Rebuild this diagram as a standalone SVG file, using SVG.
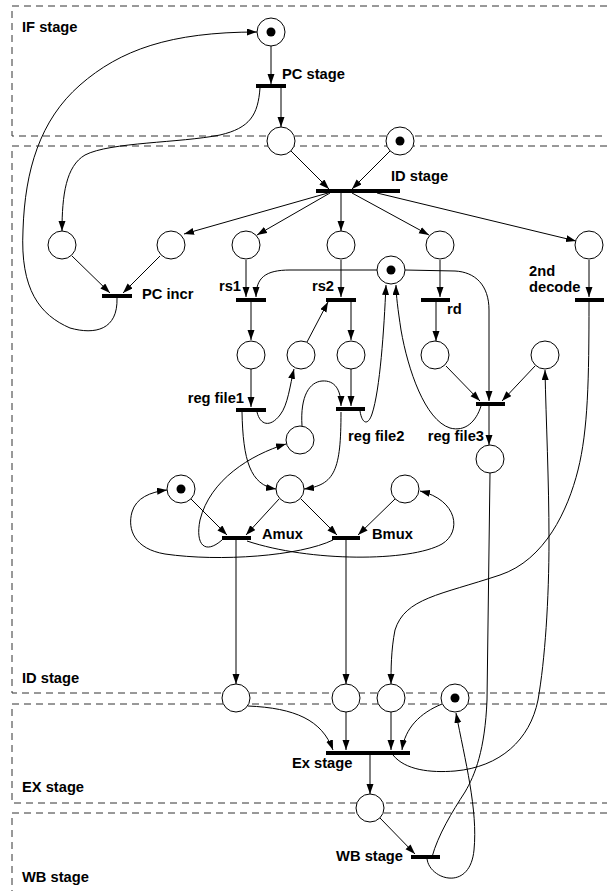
<svg xmlns="http://www.w3.org/2000/svg" width="607" height="891" viewBox="0 0 607 891">
<style>
.stage{fill:none;stroke:#333;stroke-width:1;stroke-dasharray:7,5}
.pl{fill:#fff;stroke:#000;stroke-width:1}
.tok{fill:#000}
.tr{fill:#000}
.c{fill:none;stroke:#000;stroke-width:1;marker-end:url(#ah)}
.n{fill:none;stroke:#000;stroke-width:1}
text{font-family:"Liberation Sans",Arial,sans-serif;font-weight:bold;font-size:14.7px;fill:#000}
.e{text-anchor:end}
</style>
<defs>
<marker id="ah" markerUnits="userSpaceOnUse" markerWidth="11" markerHeight="8" refX="10" refY="3.5" orient="auto">
<path d="M0,0 L10,3.5 L0,7 z" fill="#000"/>
</marker>
</defs>
<g id="stages">
<path class="stage" d="M607,6 H12 V136 H607"/>
<path class="stage" d="M607,146 H12 V693 H607"/>
<path class="stage" d="M607,704 H12 V803 H607"/>
<path class="stage" d="M607,813 H12 V891"/>
<text x="22" y="32">IF stage</text>
<text x="22" y="683">ID stage</text>
<text x="22" y="792">EX stage</text>
<text x="22" y="882">WB stage</text>
</g>
<g id="connectors">
<path class="c" d="M271,46 L271,84"/>
<path class="c" d="M281,88 L281,127"/>
<path class="c" d="M260,88 C258,115 250,128 220,135 C180,143 110,142 85,155 C66,166 62,195 62,231"/>
<path class="c" d="M117,298 C118,330 95,335 70,328 C40,315 20,290 23,230 C25,170 40,120 80,85 C120,50 170,32 257,32"/>
<path class="c" d="M72,256 L110,293"/>
<path class="c" d="M160,256 L123,293"/>
<path class="c" d="M291,151 L329,189"/>
<path class="c" d="M390,151 L352,189"/>
<path class="c" d="M328,193 L184,234"/>
<path class="c" d="M330,193 L257,235"/>
<path class="c" d="M341,193 L341,231"/>
<path class="c" d="M352,193 L429,235"/>
<path class="c" d="M377,193 L576,241"/>
<path class="c" d="M246,260 L246,297"/>
<path class="c" d="M377,270 L290,270 C265,270 256,278 256,297"/>
<path class="c" d="M251,302 L251,340"/>
<path class="c" d="M251,369 L251,407"/>
<path class="c" d="M257,412 C260,425 270,428 280,415 C288,405 290,385 294,369"/>
<path class="c" d="M242,412 C243,460 250,485 276,489"/>
<path class="c" d="M341,260 L341,297"/>
<path class="c" d="M307,342 L328,302"/>
<path class="c" d="M351,302 L351,340"/>
<path class="c" d="M351,369 L351,406"/>
<path class="c" d="M302,426 C300,395 310,382 322,381 C335,380 341,390 341,406"/>
<path class="c" d="M341,412 C341,470 335,485 304,489"/>
<path class="c" d="M360,411 C362,424 368,426 372,414 C380,390 384,330 386,285"/>
<path class="c" d="M481,406 C476,422 465,432 450,428 C425,420 408,370 401,330 C398,310 396,295 396,285"/>
<path class="c" d="M405,270 L455,271 C475,272 489,285 489,310 L489,401"/>
<path class="c" d="M440,260 L440,297"/>
<path class="c" d="M436,302 L436,341"/>
<path class="c" d="M446,366 L480,401"/>
<path class="c" d="M535,366 L502,401"/>
<path class="c" d="M489,406 L489,445"/>
<path class="c" d="M589,260 L589,297"/>
<path class="c" d="M589,302 C589,380 588,430 578,470 C568,510 545,560 500,575 C440,595 405,598 395,630 C391,650 391,670 391,684"/>
<path class="c" d="M236,540 L236,684"/>
<path class="c" d="M346,540 L346,684"/>
<path class="c" d="M191,499 L227,535"/>
<path class="c" d="M279,499 L246,535"/>
<path class="c" d="M301,499 L337,535"/>
<path class="c" d="M395,499 L358,535"/>
<path class="c" d="M222,540 C205,555 195,545 200,520 C210,480 250,455 286,444"/>
<path class="c" d="M247,541 C310,562 410,562 442,544 C462,532 458,500 420,491"/>
<path class="c" d="M333,540 C300,556 220,562 165,554 C135,549 127,530 132,512 C136,498 150,492 167,490"/>
<path class="c" d="M248,706 C295,708 322,720 333,750"/>
<path class="c" d="M346,712 L346,750"/>
<path class="c" d="M391,712 L391,750"/>
<path class="c" d="M442,704 C420,713 405,728 402,750"/>
<path class="c" d="M370,755 L370,794"/>
<path class="c" d="M393,755 C405,770 430,773 455,771 C500,767 530,740 538,700 C545,660 549,600 549,540 C549,480 546,420 545,370"/>
<path class="n" d="M490,473 L487,700 C485,750 475,775 465,792 C452,812 438,835 432,857"/>
<path class="c" d="M427,859 C430,880 470,892 474,850 C478,810 465,760 456,713"/>
<path class="c" d="M380,818 L415,854"/>
</g>
<g id="p_if"><circle class="pl" cx="271" cy="32" r="14"/><circle class="tok" cx="271" cy="32" r="4.5"/></g>
<g id="p_pc"><circle class="pl" cx="281" cy="141" r="14"/></g>
<g id="p_idtok"><circle class="pl" cx="400" cy="141" r="14"/><circle class="tok" cx="400" cy="141" r="4.5"/></g>
<g id="p_a"><circle class="pl" cx="62" cy="245" r="14"/></g>
<g id="p_b"><circle class="pl" cx="171" cy="245" r="14"/></g>
<g id="p_c"><circle class="pl" cx="246" cy="245" r="14"/></g>
<g id="p_f"><circle class="pl" cx="341" cy="245" r="14"/></g>
<g id="p_g"><circle class="pl" cx="440" cy="245" r="14"/></g>
<g id="p_h"><circle class="pl" cx="589" cy="245" r="14"/></g>
<g id="p_tok"><circle class="pl" cx="391" cy="270" r="14"/><circle class="tok" cx="391" cy="270" r="4.5"/></g>
<g id="p_d"><circle class="pl" cx="251" cy="355" r="14"/></g>
<g id="p_e"><circle class="pl" cx="301" cy="355" r="14"/></g>
<g id="p_i"><circle class="pl" cx="351" cy="355" r="14"/></g>
<g id="p_o"><circle class="pl" cx="435" cy="355" r="14"/></g>
<g id="p_n"><circle class="pl" cx="545" cy="355" r="14"/></g>
<g id="p_j"><circle class="pl" cx="300" cy="440" r="14"/></g>
<g id="p_r3"><circle class="pl" cx="490" cy="459" r="14"/></g>
<g id="p_k"><circle class="pl" cx="181" cy="489" r="14"/><circle class="tok" cx="181" cy="489" r="4.5"/></g>
<g id="p_l"><circle class="pl" cx="290" cy="489" r="14"/></g>
<g id="p_m"><circle class="pl" cx="405" cy="489" r="14"/></g>
<g id="p_x1"><circle class="pl" cx="236" cy="698" r="14"/></g>
<g id="p_x2"><circle class="pl" cx="346" cy="698" r="14"/></g>
<g id="p_x3"><circle class="pl" cx="391" cy="698" r="14"/></g>
<g id="p_x4"><circle class="pl" cx="455" cy="698" r="14"/><circle class="tok" cx="455" cy="698" r="4.5"/></g>
<g id="p_wb"><circle class="pl" cx="370" cy="808" r="14"/></g>
<g id="t_pc"><rect class="tr" x="256" y="84" width="30" height="4"/><text x="282" y="79">PC stage</text></g>
<g id="t_id"><rect class="tr" x="316" y="189" width="84" height="4"/><text x="391" y="181">ID stage</text></g>
<g id="t_pcincr"><rect class="tr" x="102" y="294" width="30" height="4"/><text x="142" y="299">PC incr</text></g>
<g id="t_rs1"><rect class="tr" x="236" y="298" width="30" height="4"/><text class="e" x="241" y="291">rs1</text></g>
<g id="t_rs2"><rect class="tr" x="326" y="298" width="30" height="4"/><text class="e" x="334" y="291">rs2</text></g>
<g id="t_rd"><rect class="tr" x="421" y="298" width="29" height="4"/><text x="447" y="314">rd</text></g>
<g id="t_2nd"><rect class="tr" x="575" y="298" width="29" height="4"/><text x="529" y="276">2nd</text><text x="529" y="292">decode</text></g>
<g id="t_rf1"><rect class="tr" x="236" y="408" width="30" height="4"/><text class="e" x="244" y="403">reg file1</text></g>
<g id="t_rf2"><rect class="tr" x="336" y="407" width="29" height="4"/><text x="348" y="441">reg file2</text></g>
<g id="t_rf3"><rect class="tr" x="476" y="402" width="29" height="4"/><text class="e" x="484" y="441">reg file3</text></g>
<g id="t_amux"><rect class="tr" x="222" y="536" width="29" height="4"/><text x="262" y="539">Amux</text></g>
<g id="t_bmux"><rect class="tr" x="332" y="536" width="28" height="4"/><text x="372" y="539">Bmux</text></g>
<g id="t_ex"><rect class="tr" x="326" y="751" width="84" height="4"/><text x="292" y="768">Ex stage</text></g>
<g id="t_wb"><rect class="tr" x="411" y="855" width="29" height="4"/><text class="e" x="403" y="861">WB stage</text></g>
</svg>
